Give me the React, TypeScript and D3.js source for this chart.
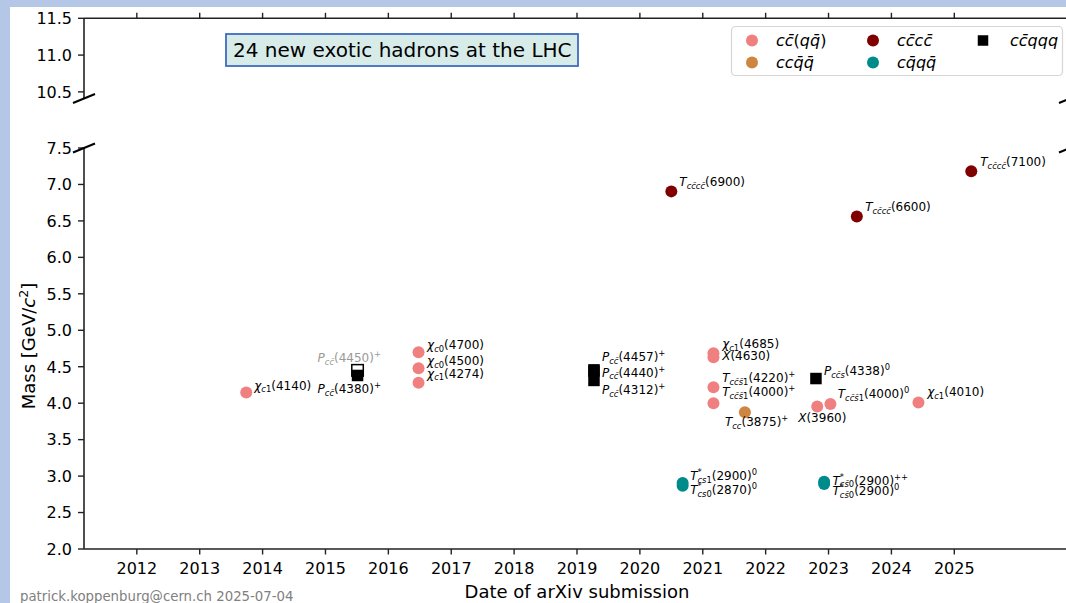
import React from 'react';
import * as d3 from 'd3';

// ---------- data ----------
const labels: string[] = [
  'χ_{c1}(4140)', 'P_{cc̄}(4450)^{+}', 'P_{cc̄}(4380)^{+}', 'χ_{c0}(4700)', 'χ_{c0}(4500)', 'χ_{c1}(4274)',
  'P_{cc̄}(4457)^{+}', 'P_{cc̄}(4440)^{+}', 'P_{cc̄}(4312)^{+}', 'T_{cc̄cc̄}(6900)', 'T^{*}_{cs1}(2900)^{0}', 'T^{*}_{cs0}(2870)^{0}',
  'χ_{c1}(4685)', 'X(4630)', 'T_{cc̄s̄1}(4220)^{+}', 'T_{cc̄s̄1}(4000)^{+}', 'T_{cc}(3875)^{+}', 'P_{cc̄s}(4338)^{0}',
  'X(3960)', 'T^{*}_{cs̄0}(2900)^{++}', 'T^{*}_{cs̄0}(2900)^{0}', 'T_{cc̄s̄1}(4000)^{0}', 'T_{cc̄cc̄}(6600)', 'χ_{c1}(4010)', 'T_{cc̄cc̄}(7100)',
];
const years: number[] = [
  2013.74, 2015.51, 2015.51, 2016.48, 2016.48, 2016.48,
  2019.27, 2019.27, 2019.27, 2020.50, 2020.68, 2020.68,
  2021.17, 2021.17, 2021.17, 2021.17, 2021.67, 2022.80,
  2022.82, 2022.93, 2022.93, 2023.03, 2023.45, 2024.43, 2025.27,
];
const masses: number[] = [
  4.146, 4.45, 4.38, 4.70, 4.48, 4.28,
  4.457, 4.440, 4.312, 6.905, 2.904, 2.866,
  4.684, 4.630, 4.218, 4.000, 3.875, 4.338,
  3.956, 2.921, 2.892, 3.990, 6.560, 4.010, 7.180,
];
const families: string[] = [
  'ccqq', 'superseded', 'pent', 'ccqq', 'ccqq', 'ccqq',
  'pent', 'pent', 'pent', 'cccc', 'cqqq', 'cqqq',
  'ccqq', 'ccqq', 'ccqq', 'ccqq', 'ccqqbar', 'pent',
  'ccqq', 'cqqq', 'cqqq', 'ccqq', 'cccc', 'ccqq', 'cccc',
];
// label placement relative to the marker (annotation layout)
const labelOffsets: [number, number][] = [
  [8, -3], [-40, -8], [-40, 17.5], [8.5, -3], [8.5, -3], [8.5, -5],
  [8, -9], [8, 5.5], [8, 13.5], [8, -5.5], [7.5, -3], [7.5, 8],
  [8.7, -5], [8.7, 3], [8.7, -5], [8.7, -7], [-20, 14], [8, -3.5],
  [-19, 16], [8.4, 3], [8.4, 11.5], [7.3, -6], [8.3, -5.5], [8.7, -6], [9, -5],
];

const legendFamilies = ['ccqq', 'ccqqbar', 'cccc', 'cqqq', 'pent'];
const legendLabels = ['cc̄(qq̄)', 'ccq̄q̄', 'cc̄cc̄', 'cq̄qq̄', 'cc̄qqq'];

const xTicks = [2012, 2013, 2014, 2015, 2016, 2017, 2018, 2019, 2020, 2021, 2022, 2023, 2024, 2025];
const yTicksLower = [2.0, 2.5, 3.0, 3.5, 4.0, 4.5, 5.0, 5.5, 6.0, 6.5, 7.0, 7.5];
const yTicksUpper = [10.5, 11.0, 11.5];

const colors: Record<string, string> = {
  ccqq: '#f08080',
  ccqqbar: '#cd853f',
  cccc: '#800000',
  cqqq: '#008b8b',
  pent: '#000000',
  superseded: '#ffffff',
};

// ---------- layout ----------
const W = 1066, H = 603;
const AX_L = 84, AX_R = 1070;
const x = d3.scaleLinear().domain([2011.16, 2026.84]).range([AX_L, AX_R]);
const yLow = d3.scaleLinear().domain([2.0, 7.5]).range([549, 148]);
const yUp = d3.scaleLinear().domain([10.41, 11.5]).range([98.5, 18.3]);
const FONT = 'DejaVu Sans';
const AXC = '#222';

type Seg = { text: string; kind: 'base' | 'sub' | 'sup' };
function parse(s: string): Seg[] {
  const out: Seg[] = [];
  let i = 0, buf = '';
  while (i < s.length) {
    const ch = s[i];
    if ((ch === '_' || ch === '^') && s[i + 1] === '{') {
      if (buf) { out.push({ text: buf, kind: 'base' }); buf = ''; }
      const end = s.indexOf('}', i);
      out.push({ text: s.slice(i + 2, end), kind: ch === '_' ? 'sub' : 'sup' });
      i = end + 1;
    } else { buf += ch; i++; }
  }
  if (buf) out.push({ text: buf, kind: 'base' });
  return out;
}
function splitRuns(s: string): { text: string; italic: boolean }[] {
  const runs: { text: string; italic: boolean }[] = [];
  for (const ch of Array.from(s)) {
    if (/\p{M}/u.test(ch) && runs.length) { runs[runs.length - 1].text += ch; continue; }
    const it = /\p{L}/u.test(ch);
    if (runs.length && runs[runs.length - 1].italic === it) runs[runs.length - 1].text += ch;
    else runs.push({ text: ch, italic: it });
  }
  return runs;
}

function MathText({ x, y, text, size, fill = '#000', anchor = 'start' }:
  { x: number; y: number; text: string; size: number; fill?: string; anchor?: string }) {
  const segs = parse(text);
  const spans: React.ReactNode[] = [];
  let cur = 0, key = 0, prevKind = 'base', prevSupW = 0;
  segs.forEach(seg => {
    const fs = seg.kind === 'base' ? size : size * 0.7;
    const shift = seg.kind === 'sub' ? size * 0.22 : seg.kind === 'sup' ? -size * 0.42 : 0;
    const dxFirst = seg.kind === 'sub' && prevKind === 'sup' ? -prevSupW : 0;
    splitRuns(seg.text).forEach((r, idx) => {
      spans.push(
        <tspan key={key++} dy={idx === 0 ? shift - cur : 0} dx={idx === 0 && dxFirst ? dxFirst : undefined}
          fontSize={fs} fontStyle={r.italic ? 'italic' : 'normal'}>{r.text}</tspan>
      );
    });
    cur = shift;
    if (seg.kind === 'sup') prevSupW = Array.from(seg.text).length * 0.5 * fs;
    prevKind = seg.kind;
  });
  return <text x={x} y={y} fill={fill} textAnchor={anchor} fontFamily={FONT} fontSize={size}>{spans}</text>;
}

function Marker({ cx, cy, fam, r = 6, sq = 11.5 }: { cx: number; cy: number; fam: string; r?: number; sq?: number }) {
  if (fam === 'pent' || fam === 'superseded') {
    return <rect x={cx - sq / 2} y={cy - sq / 2} width={sq} height={sq} fill={colors[fam]}
      stroke="#000" strokeWidth={fam === 'superseded' ? 1.5 : 0} />;
  }
  return <circle cx={cx} cy={cy} r={r} fill={colors[fam]} />;
}

function BreakMark({ cx, cy }: { cx: number; cy: number }) {
  return <line x1={cx - 11} y1={cy + 4.5} x2={cx + 11} y2={cy - 4.5} stroke="#000" strokeWidth={2} />;
}

export default function App() {
  const idx = d3.range(labels.length);
  // draw superseded marker first so the filled one sits on top
  const order = [...idx].sort((a, b) => (families[a] === 'superseded' ? -1 : 0) - (families[b] === 'superseded' ? -1 : 0));
  const legendPos = [[0, 0], [0, 1], [1, 0], [1, 1], [2, 0]];
  const legendColX = [752, 873, 983];
  const legendTextX = [776, 897, 1010];
  const legendRowY = [40.5, 62.5];

  return (
    <svg width={W} height={H} style={{ position: 'absolute', left: 0, top: 0 }} fontFamily={FONT}>
      <rect x={0} y={0} width={W} height={H} fill="#b4c7e7" />
      <rect x={10} y={7} width={W - 10} height={H - 7} fill="#ffffff" />

      {/* upper panel */}
      <line x1={AX_L} y1={yUp.range()[1]} x2={AX_R} y2={yUp.range()[1]} stroke={AXC} strokeWidth={1.6} />
      <line x1={AX_L} y1={yUp.range()[0]} x2={AX_L} y2={yUp.range()[1]} stroke={AXC} strokeWidth={1.6} />
      {xTicks.map(t => (
        <line key={'tt' + t} x1={x(t)} x2={x(t)} y1={yUp.range()[1]} y2={yUp.range()[1] - 5.5} stroke={AXC} strokeWidth={1.4} />
      ))}
      {yTicksUpper.map(t => (
        <g key={'yu' + t}>
          <line x1={AX_L - 6} x2={AX_L} y1={yUp(t)} y2={yUp(t)} stroke={AXC} strokeWidth={1.4} />
          <text x={AX_L - 12} y={yUp(t) + 5.8} textAnchor="end" fontSize={16} fill="#000">{d3.format('.1f')(t)}</text>
        </g>
      ))}

      {/* lower panel */}
      <line x1={AX_L} y1={yLow.range()[0]} x2={AX_R} y2={yLow.range()[0]} stroke={AXC} strokeWidth={1.6} />
      <line x1={AX_L} y1={yLow.range()[0]} x2={AX_L} y2={yLow.range()[1]} stroke={AXC} strokeWidth={1.6} />
      {xTicks.map(t => (
        <g key={'xb' + t}>
          <line x1={x(t)} x2={x(t)} y1={yLow.range()[0]} y2={yLow.range()[0] + 5.5} stroke={AXC} strokeWidth={1.4} />
          <text x={x(t)} y={574} textAnchor="middle" fontSize={16} fill="#000">{t}</text>
        </g>
      ))}
      {yTicksLower.map(t => (
        <g key={'yl' + t}>
          <line x1={AX_L - 6} x2={AX_L} y1={yLow(t)} y2={yLow(t)} stroke={AXC} strokeWidth={1.4} />
          <text x={AX_L - 12} y={yLow(t) + 5.8} textAnchor="end" fontSize={16} fill="#000">{d3.format('.1f')(t)}</text>
        </g>
      ))}

      {/* break marks */}
      <BreakMark cx={AX_L} cy={yUp.range()[0]} />
      <BreakMark cx={AX_L} cy={yLow.range()[1]} />
      <BreakMark cx={AX_R} cy={yUp.range()[0]} />
      <BreakMark cx={AX_R} cy={yLow.range()[1]} />

      {/* axis labels */}
      <text x={(AX_L + AX_R) / 2} y={598} textAnchor="middle" fontSize={18} fill="#000">Date of arXiv submission</text>
      <text transform={`translate(35,346) rotate(-90)`} textAnchor="middle" fontSize={18} fill="#000">
        Mass [GeV/<tspan fontStyle="italic">c</tspan><tspan dy={-7} fontSize={12.6}>2</tspan><tspan dy={7}>]</tspan>
      </text>

      {/* points */}
      {order.map(i => (
        <Marker key={'m' + i} cx={x(years[i])} cy={yLow(masses[i])} fam={families[i]} />
      ))}
      {idx.map(i => (
        <MathText key={'l' + i} x={x(years[i]) + labelOffsets[i][0]} y={yLow(masses[i]) + labelOffsets[i][1]}
          text={labels[i]} size={12} fill={families[i] === 'superseded' ? '#999999' : '#000'} />
      ))}

      {/* title box */}
      <rect x={226} y={34} width={352} height={32} fill="#d7ebe9" stroke="#3d6cc0" strokeWidth={1.8} />
      <text x={233} y={57} fontSize={20} fill="#000">24 new exotic hadrons at the LHC</text>

      {/* legend */}
      <rect x={731.5} y={26.5} width={331} height={49} rx={4} fill="#ffffff" stroke="#d6d6d6" strokeWidth={1.2} />
      {legendFamilies.map((f, k) => {
        const [c, r] = legendPos[k];
        return (
          <g key={'lg' + f}>
            <Marker cx={legendColX[c]} cy={legendRowY[r]} fam={f} r={6} sq={10.5} />
            <MathText x={legendTextX[c]} y={legendRowY[r] + 5.5} text={legendLabels[k]} size={16} />
          </g>
        );
      })}

      {/* footer */}
      <text x={20} y={601} fontSize={13.3} fill="#808080">patrick.koppenburg@cern.ch 2025-07-04</text>
    </svg>
  );
}
